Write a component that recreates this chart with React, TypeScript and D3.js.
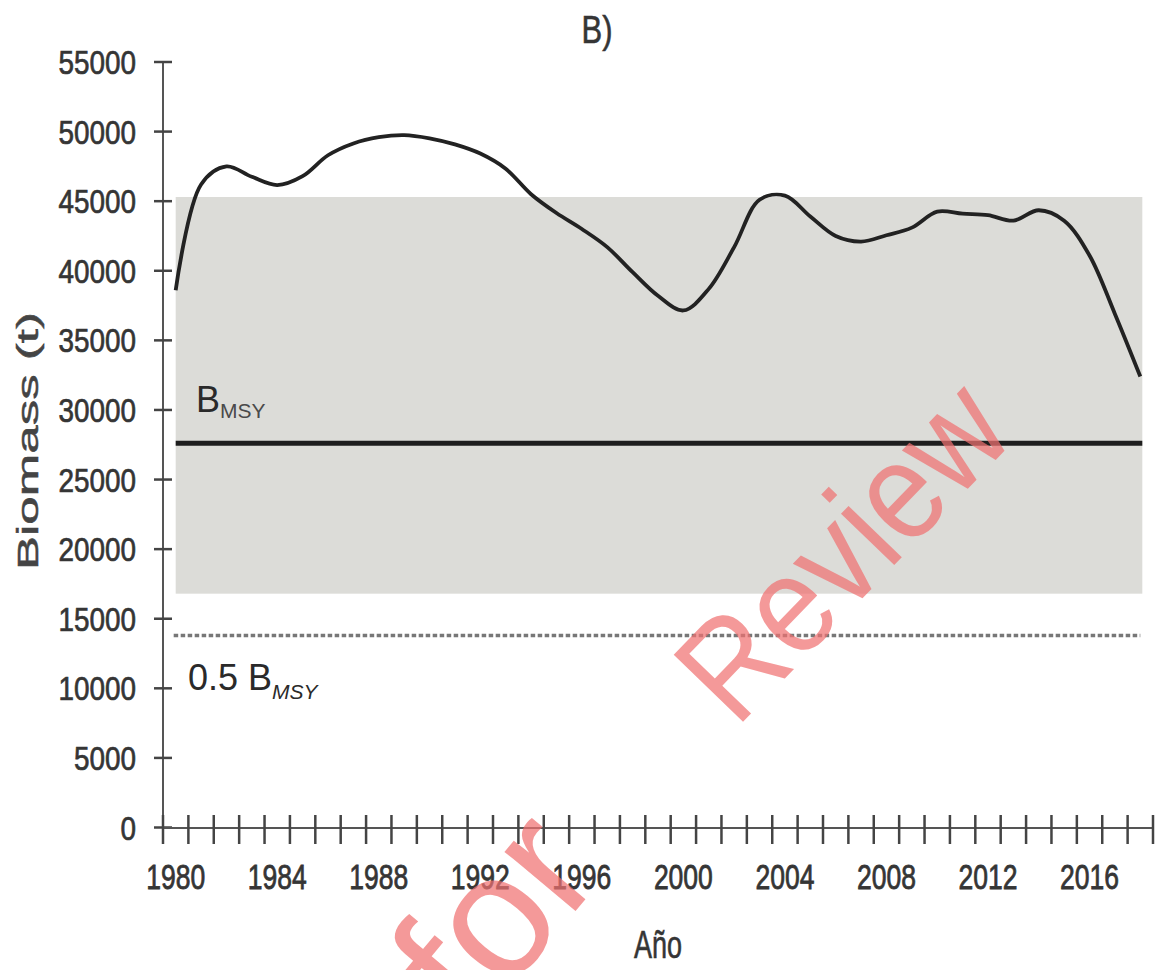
import React from "react";
import * as d3 from "d3";

// Annual biomass estimates (t)
const YEARS = [
  1980, 1981, 1982, 1983, 1984, 1985, 1986, 1987, 1988, 1989,
  1990, 1991, 1992, 1993, 1994, 1995, 1996, 1997, 1998, 1999,
  2000, 2001, 2002, 2003, 2004, 2005, 2006, 2007, 2008, 2009,
  2010, 2011, 2012, 2013, 2014, 2015, 2016, 2017, 2018,
];
const BIOMASS = [
  38600, 46200, 47500, 46750, 46160, 46800, 48300, 49150, 49600, 49750,
  49520, 49080, 48420, 47330, 45500, 44150, 43000, 41700, 39900, 38200,
  37150, 38700, 41700, 45100, 45400, 43900, 42500, 42100, 42550, 43100,
  44250, 44100, 44000, 43600, 44350, 43600, 41100, 36900, 32400,
];

// Reference points and the shaded range
const B_MSY = 27600;
const HALF_B_MSY = 13800;
const BAND = [16800, 45300];

const X_LABELS = [1980, 1984, 1988, 1992, 1996, 2000, 2004, 2008, 2012, 2016];
const Y_TICKS = [0, 5000, 10000, 15000, 20000, 25000, 30000, 35000, 40000, 45000, 50000, 55000];

const W = 1164;
const H = 970;
const FONT = "'Liberation Sans', Arial, sans-serif";
const TEXT = "#353535";

export default function App() {
  const x = d3.scaleLinear().domain([1979.5, 2018.5]).range([163, 1153]);
  const y = d3.scaleLinear().domain([0, 55000]).range([827.5, 62]);

  const first = YEARS[0];
  const last = YEARS[YEARS.length - 1];

  const line = d3
    .line<number>()
    .x((_, i) => x(YEARS[i]))
    .y((d) => y(d))
    .curve(d3.curveCatmullRom.alpha(0.5));

  // category boundaries on the x axis
  const xTicks = [...YEARS.map((yr) => yr - 0.5), last + 0.5];

  const labelStyle = { paintOrder: "stroke" as const };

  return (
    <svg
      width={W}
      height={H}
      style={{ position: "absolute", left: 0, top: 0, background: "#fff" }}
    >
      {/* shaded range */}
      <rect
        x={x(first)}
        y={y(BAND[1])}
        width={x(last) - x(first) + 2}
        height={y(BAND[0]) - y(BAND[1])}
        fill="#dcdcd8"
      />

      {/* B_MSY line */}
      <line
        x1={x(first)}
        x2={x(last) + 2}
        y1={y(B_MSY)}
        y2={y(B_MSY)}
        stroke="#1e1e1e"
        strokeWidth={5}
      />
      {/* 0.5 B_MSY dotted line */}
      <line
        x1={x(first) - 2}
        x2={x(last)}
        y1={y(HALF_B_MSY)}
        y2={y(HALF_B_MSY)}
        stroke="#777"
        strokeWidth={3.5}
        strokeDasharray="4.5 2.5"
      />

      {/* biomass trajectory */}
      <path d={line(BIOMASS) || ""} fill="none" stroke="#222" strokeWidth={3.8} strokeLinejoin="round" />

      {/* y axis */}
      <line x1={163} x2={163} y1={y(55000)} y2={y(0)} stroke="#555" strokeWidth={2} />
      {Y_TICKS.map((t) => (
        <g key={t}>
          <line x1={154} x2={172} y1={y(t)} y2={y(t)} stroke="#444" strokeWidth={2.5} />
          <text
            x={136}
            y={y(t) + 12}
            textAnchor="end"
            fontFamily={FONT}
            fontSize={33}
            fill={TEXT}
            stroke={TEXT}
            strokeWidth={0.7}
            style={labelStyle}
            textLength={String(t).length * 15.5}
            lengthAdjust="spacingAndGlyphs"
          >
            {t}
          </text>
        </g>
      ))}

      {/* x axis */}
      <line x1={163} x2={x(last + 0.5)} y1={828} y2={828} stroke="#555" strokeWidth={2} />
      {xTicks.map((t) => (
        <line key={t} x1={x(t)} x2={x(t)} y1={815} y2={844} stroke="#444" strokeWidth={2.5} />
      ))}
      {X_LABELS.map((yr) => (
        <text
          key={yr}
          x={x(yr)}
          y={889}
          textAnchor="middle"
          fontFamily={FONT}
          fontSize={35}
          fill={TEXT}
          stroke={TEXT}
          strokeWidth={0.8}
          style={labelStyle}
          textLength={59}
          lengthAdjust="spacingAndGlyphs"
        >
          {yr}
        </text>
      ))}

      {/* axis titles */}
      <text
        x={658}
        y={958}
        textAnchor="middle"
        fontFamily={FONT}
        fontSize={38}
        fill={TEXT}
        stroke={TEXT}
        strokeWidth={0.6}
        textLength={48}
        lengthAdjust="spacingAndGlyphs"
      >
        Año
      </text>
      <text
        transform="translate(38,441) rotate(-90)"
        textAnchor="middle"
        fontFamily={FONT}
        fontSize={30}
        fill="#444"
        stroke="#444"
        strokeWidth={0.5}
        textLength={258}
        lengthAdjust="spacingAndGlyphs"
      >
        Biomass (t)
      </text>

      {/* panel label */}
      <text
        x={597}
        y={43}
        textAnchor="middle"
        fontFamily={FONT}
        fontSize={38}
        fill={TEXT}
        stroke={TEXT}
        strokeWidth={0.6}
        textLength={31}
        lengthAdjust="spacingAndGlyphs"
      >
        B)
      </text>

      {/* reference point labels */}
      <text x={196} y={412} fontFamily={FONT} fill="#2a2a2a">
        <tspan fontSize={36}>B</tspan>
        <tspan fontSize={21} dy={6} fill="#4a4a4a">MSY</tspan>
      </text>
      <text x={188} y={690} fontFamily={FONT} fill="#2a2a2a">
        <tspan fontSize={36}>0.5 B</tspan>
        <tspan fontSize={21} dy={9} fontStyle="italic">MSY</tspan>
      </text>

      {/* watermark */}
      <g fontFamily={FONT} fill="#f07272" fillOpacity={0.72}>
        <text transform="translate(474,1032) rotate(-50)" fontSize={175}>
          for
        </text>
        <text
          transform="translate(736,729) rotate(-46)"
          fontSize={140}
          textLength={405}
          lengthAdjust="spacingAndGlyphs"
        >
          Review
        </text>
      </g>
    </svg>
  );
}
